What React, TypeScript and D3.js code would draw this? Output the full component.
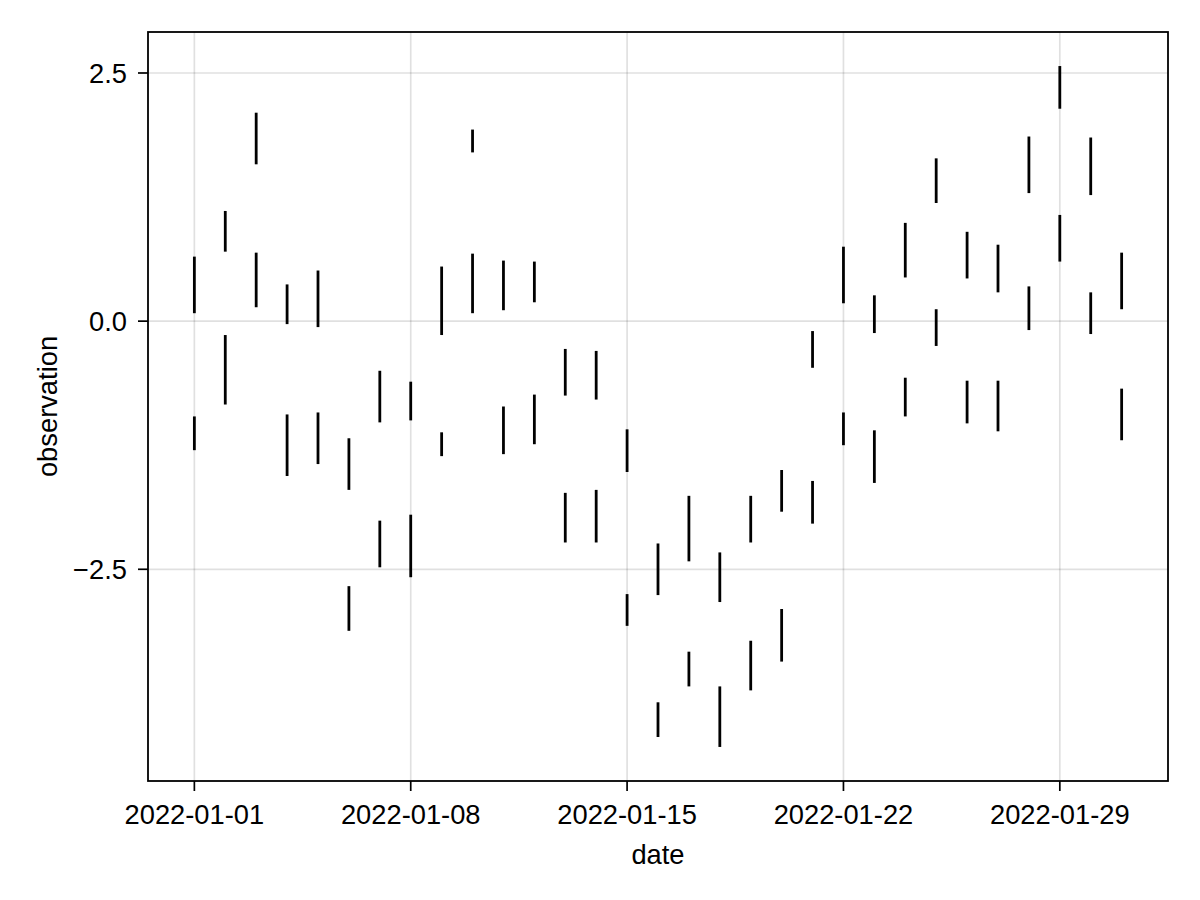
import React from "react";
import * as d3 from "d3";

const days: string[] = [
  "2022-01-01","2022-01-02","2022-01-03","2022-01-04","2022-01-05","2022-01-06","2022-01-07",
  "2022-01-08","2022-01-09","2022-01-10","2022-01-11","2022-01-12","2022-01-13","2022-01-14",
  "2022-01-15","2022-01-16","2022-01-17","2022-01-18","2022-01-19","2022-01-20","2022-01-21",
  "2022-01-22","2022-01-23","2022-01-24","2022-01-25","2022-01-26","2022-01-27","2022-01-28",
  "2022-01-29","2022-01-30","2022-01-31",
];

const seriesAHigh: number[] = [0.65, 1.11, 2.10, 0.37, 0.51, -1.18, -0.50, -0.61, 0.55, 1.93, 0.61, 0.60, -0.28, -0.30, -1.09, -2.24, -1.76, -2.33, -1.76, -1.50, -0.10, 0.75, 0.26, 0.99, 1.64, 0.90, 0.77, 1.86, 2.57, 1.85, 0.69];
const seriesALow: number[] = [0.08, 0.70, 1.58, -0.03, -0.06, -1.70, -1.02, -1.00, -0.14, 1.70, 0.11, 0.19, -0.75, -0.79, -1.52, -2.76, -2.42, -2.83, -2.23, -1.92, -0.47, 0.18, -0.12, 0.44, 1.19, 0.43, 0.29, 1.29, 2.14, 1.27, 0.12];
const seriesBHigh: number[] = [-0.96, -0.14, 0.69, -0.94, -0.92, -2.67, -2.01, -1.95, -1.12, 0.68, -0.86, -0.74, -1.73, -1.70, -2.75, -3.84, -3.33, -3.68, -3.22, -2.90, -1.61, -0.92, -1.10, -0.57, 0.12, -0.60, -0.60, 0.35, 1.07, 0.29, -0.68];
const seriesBLow: number[] = [-1.30, -0.84, 0.14, -1.56, -1.44, -3.12, -2.48, -2.58, -1.36, 0.08, -1.34, -1.24, -2.23, -2.23, -3.07, -4.19, -3.68, -4.29, -3.72, -3.43, -2.04, -1.25, -1.63, -0.96, -0.25, -1.03, -1.11, -0.09, 0.60, -0.13, -1.20];

const xTickLabels: string[] = ["2022-01-01", "2022-01-08", "2022-01-15", "2022-01-22", "2022-01-29"];
const yTicks: number[] = [-2.5, 0, 2.5];

const xLabel = "date";
const yLabel = "observation";

const W = 1200;
const H = 900;
const left = 148;
const right = 1168;
const top = 32;
const bottom = 781;
const FONT = "'Liberation Sans', Arial, Helvetica, sans-serif";
const FS = 27.3;

export default function App() {
  const parse = d3.utcParse("%Y-%m-%d");
  const dates = days.map((d) => parse(d) as Date);
  const [x0, x1] = d3.extent(dates) as [Date, Date];
  const xSpan = +x1 - +x0;
  const x = d3
    .scaleUtc()
    .domain([new Date(+x0 - xSpan * 0.05), new Date(+x1 + xSpan * 0.05)])
    .range([left, right]);

  const all = [...seriesAHigh, ...seriesALow, ...seriesBHigh, ...seriesBLow];
  const yMin = d3.min(all) as number;
  const yMax = d3.max(all) as number;
  const ySpan = yMax - yMin;
  const y = d3
    .scaleLinear()
    .domain([yMin - ySpan * 0.05, yMax + ySpan * 0.05])
    .range([bottom, top]);

  const xTickDates = xTickLabels.map((d) => parse(d) as Date);
  const fmt = d3.format(".1f");
  const yFmt = (v: number) => fmt(v).replace("-", "\u2212");

  const bars = [
    { hi: seriesAHigh, lo: seriesALow },
    { hi: seriesBHigh, lo: seriesBLow },
  ];

  return (
    <svg
      width={W}
      height={H}
      style={{ position: "absolute", left: 0, top: 0, background: "#fff" }}
      fontFamily={FONT}
    >
      <rect x={0} y={0} width={W} height={H} fill="#fff" />
      {xTickDates.map((d, i) => (
        <line key={"gx" + i} x1={x(d)} x2={x(d)} y1={top} y2={bottom} stroke="rgba(0,0,0,0.12)" strokeWidth={1.7} />
      ))}
      {yTicks.map((v, i) => (
        <line key={"gy" + i} x1={left} x2={right} y1={y(v)} y2={y(v)} stroke="rgba(0,0,0,0.12)" strokeWidth={1.7} />
      ))}
      {bars.map((s, si) =>
        dates.map((d, i) => (
          <line
            key={"b" + si + "-" + i}
            x1={x(d)}
            x2={x(d)}
            y1={y(s.hi[i])}
            y2={y(s.lo[i])}
            stroke="#000"
            strokeWidth={2.8}
          />
        ))
      )}
      <rect x={left} y={top} width={right - left} height={bottom - top} fill="none" stroke="#000" strokeWidth={1.8} />
      {xTickDates.map((d, i) => (
        <g key={"xt" + i}>
          <line x1={x(d)} x2={x(d)} y1={bottom} y2={bottom + 10} stroke="#000" strokeWidth={1.7} />
          <text x={x(d)} y={824} textAnchor="middle" fontSize={FS} fill="#000">
            {xTickLabels[i]}
          </text>
        </g>
      ))}
      {yTicks.map((v, i) => (
        <g key={"yt" + i}>
          <line x1={left - 10} x2={left} y1={y(v)} y2={y(v)} stroke="#000" strokeWidth={1.7} />
          <text x={127} y={y(v) + 9.8} textAnchor="end" fontSize={FS} fill="#000">
            {yFmt(v)}
          </text>
        </g>
      ))}
      <text x={(left + right) / 2} y={864} textAnchor="middle" fontSize={FS} fill="#000">
        {xLabel}
      </text>
      <text
        transform={`translate(56.5, ${(top + bottom) / 2}) rotate(-90)`}
        textAnchor="middle"
        fontSize={FS}
        fill="#000"
      >
        {yLabel}
      </text>
    </svg>
  );
}
